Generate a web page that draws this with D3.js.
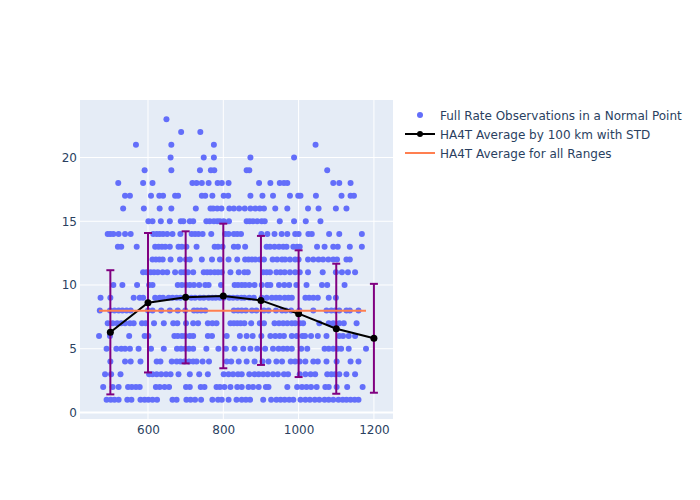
<!DOCTYPE html>
<html>
<head>
<meta charset="utf-8">
<script src="https://cdn.jsdelivr.net/npm/d3@7"></script>
<style>
  body { margin: 0; background: #fff; }
  text { font-family: "DejaVu Sans", Verdana, sans-serif; }
</style>
</head>
<body>
<div id="chart"></div>
<script>
// observations per normal point: x = range (km), grouped by observation count (row index + 1)
const obsRows = [
  [490, 501, 511, 522, 545, 556, 580, 591, 601, 612, 624, 665, 676, 702, 713, 725, 741, 771, 786, 796, 814, 835, 849, 860, 871, 906, 927, 941, 952, 963, 975, 986, 1005, 1018, 1030, 1043, 1055, 1069, 1080, 1092, 1106, 1117, 1127, 1138, 1149, 1159],
  [481, 506, 522, 547, 557, 568, 578, 621, 631, 644, 656, 701, 711, 740, 750, 782, 791, 803, 819, 837, 849, 867, 879, 894, 913, 920, 970, 996, 1009, 1021, 1033, 1048, 1071, 1080, 1101, 1129, 1170],
  [486, 502, 527, 603, 612, 623, 635, 648, 660, 681, 711, 736, 759, 801, 814, 826, 839, 849, 869, 883, 894, 906, 918, 932, 945, 961, 972, 1003, 1018, 1032, 1044, 1076, 1087, 1097, 1108, 1127, 1150],
  [500, 539, 554, 580, 623, 633, 663, 676, 686, 697, 709, 720, 729, 745, 762, 809, 821, 841, 862, 883, 904, 920, 941, 956, 979, 991, 1003, 1018, 1039, 1051, 1074, 1101, 1138, 1159],
  [490, 516, 529, 539, 552, 575, 608, 642, 677, 688, 699, 709, 720, 755, 787, 807, 830, 853, 872, 890, 911, 932, 947, 959, 970, 982, 1007, 1023, 1069, 1080, 1092, 1103, 1113, 1133, 1179],
  [470, 499, 550, 591, 601, 670, 679, 690, 699, 711, 720, 759, 770, 809, 844, 862, 878, 901, 925, 938, 950, 961, 982, 995, 1010, 1017, 1033, 1051, 1074, 1108, 1118, 1133, 1150],
  [493, 506, 518, 529, 539, 552, 562, 584, 594, 616, 642, 667, 678, 701, 720, 733, 759, 771, 782, 819, 828, 837, 846, 856, 874, 897, 908, 936, 948, 959, 970, 982, 991, 1003, 1012, 1055, 1080, 1092, 1108, 1120, 1154],
  [472, 499, 511, 522, 532, 543, 554, 600, 612, 635, 658, 679, 699, 722, 731, 741, 752, 828, 839, 849, 860, 876, 888, 908, 920, 940, 956, 966, 980, 1002, 1039, 1074, 1087, 1097, 1108, 1127, 1136, 1159],
  [474, 500, 562, 578, 587, 619, 631, 640, 655, 665, 676, 686, 699, 715, 725, 738, 748, 761, 771, 780, 791, 801, 816, 826, 837, 848, 856, 869, 881, 902, 915, 929, 940, 950, 963, 973, 982, 1018, 1028, 1039, 1051, 1080, 1099],
  [508, 532, 571, 603, 612, 679, 690, 701, 711, 722, 736, 752, 761, 794, 830, 839, 849, 858, 869, 883, 902, 917, 925, 948, 962, 975, 994, 1021, 1062, 1076, 1122],
  [587, 596, 607, 616, 626, 639, 651, 672, 688, 697, 706, 720, 748, 757, 766, 777, 786, 796, 819, 841, 856, 865, 906, 915, 924, 941, 952, 963, 977, 991, 1003, 1025, 1064, 1099, 1115, 1131, 1150],
  [612, 621, 630, 639, 660, 685, 701, 711, 743, 770, 791, 814, 837, 858, 867, 876, 885, 897, 908, 931, 943, 956, 964, 977, 991, 1000, 1025, 1039, 1053, 1065, 1079, 1092, 1102, 1127, 1136],
  [520, 529, 570, 619, 628, 637, 646, 658, 681, 690, 702, 729, 777, 786, 798, 828, 839, 858, 915, 924, 936, 948, 959, 968, 986, 996, 1003, 1049, 1069, 1092, 1104, 1136, 1168],
  [493, 500, 508, 522, 539, 554, 614, 623, 631, 640, 651, 665, 686, 716, 725, 734, 745, 768, 805, 814, 828, 837, 847, 901, 917, 936, 955, 970, 991, 1000, 1026, 1035, 1081, 1108, 1168],
  [601, 612, 634, 658, 687, 694, 711, 720, 755, 764, 775, 784, 791, 801, 815, 862, 870, 879, 890, 902, 910, 950, 988, 1019, 1058],
  [534, 589, 631, 662, 727, 766, 773, 784, 795, 816, 828, 842, 857, 872, 885, 897, 908, 938, 970, 1025, 1053, 1099, 1127],
  [539, 552, 608, 630, 640, 672, 680, 743, 752, 771, 801, 813, 872, 904, 932, 977, 999, 1005, 1046, 1114, 1138, 1147],
  [521, 587, 612, 718, 729, 743, 761, 785, 796, 814, 895, 925, 950, 961, 970, 1092, 1108, 1138],
  [591, 662, 738, 767, 776, 862, 869, 1076],
  [660, 748, 775, 872, 988],
  [568, 662, 775, 1045],
  [688, 739],
  [649]
];

// averages by 100 km bins
const binKm = [500, 600, 700, 800, 900, 1000, 1100, 1200];
const binMean = [6.29, 8.61, 9.03, 9.14, 8.79, 7.75, 6.57, 5.82];
const binStd = [4.87, 5.47, 5.18, 5.67, 5.06, 4.97, 5.1, 4.27];
const overallMean = 7.98;

const xTicks = [600, 800, 1000, 1200];
const yTicks = [0, 5, 10, 15, 20];
const legendLabels = [
  'Full Rate Observations in a Normal Point',
  'HA4T Average by 100 km with STD',
  'HA4T Average for all Ranges'
];

const width = 700;
const height = 500;
const margin = { top: 100, right: 307, bottom: 81, left: 80 };
const innerW = width - margin.left - margin.right;
const innerH = height - margin.top - margin.bottom;

const points = [];
obsRows.forEach((row, i) => {
  row.forEach(km => points.push({ x: km, y: i + 1 }));
});

const x = d3.scaleLinear().domain([419.4, 1250.7]).range([0, innerW]);
const y = d3.scaleLinear().domain([-0.51, 24.51]).range([innerH, 0]);

const svg = d3.select('#chart')
  .append('svg')
  .attr('width', width)
  .attr('height', height);

svg.append('rect')
  .attr('width', width)
  .attr('height', height)
  .attr('fill', '#fff');

const g = svg.append('g')
  .attr('transform', `translate(${margin.left},${margin.top})`);

g.append('rect')
  .attr('width', innerW)
  .attr('height', innerH)
  .attr('fill', '#E5ECF6');

// grid
g.selectAll('.xgrid')
  .data(xTicks)
  .enter().append('line')
  .attr('x1', d => x(d)).attr('x2', d => x(d))
  .attr('y1', 0).attr('y2', innerH)
  .attr('stroke', '#fff').attr('stroke-width', 1);

g.selectAll('.ygrid')
  .data(yTicks)
  .enter().append('line')
  .attr('x1', 0).attr('x2', innerW)
  .attr('y1', d => y(d)).attr('y2', d => y(d))
  .attr('stroke', '#fff')
  .attr('stroke-width', d => d === 0 ? 2 : 1);

// axes (labels only, plotly style)
const xAxis = g.append('g')
  .attr('transform', `translate(0,${innerH})`)
  .call(d3.axisBottom(x).tickValues(xTicks).tickFormat(d3.format('d')).tickSize(0).tickPadding(6));
const yAxis = g.append('g')
  .call(d3.axisLeft(y).tickValues(yTicks).tickSize(0).tickPadding(3));
[xAxis, yAxis].forEach(a => {
  a.select('.domain').remove();
  a.selectAll('text')
    .attr('fill', '#2a3f5f')
    .style('font-size', '12px')
    .style('font-family', '"DejaVu Sans", Verdana, sans-serif');
});

// scatter
g.append('g')
  .selectAll('circle')
  .data(points)
  .enter().append('circle')
  .attr('cx', d => x(d.x))
  .attr('cy', d => y(d.y))
  .attr('r', 3)
  .attr('fill', '#636efa');

// error bars
const bins = binKm.map((km, i) => ({ km: km, mean: binMean[i], std: binStd[i] }));
const eb = g.append('g').selectAll('g')
  .data(bins)
  .enter().append('g')
  .attr('stroke', 'purple')
  .attr('stroke-width', 2);
eb.append('line')
  .attr('x1', d => x(d.km)).attr('x2', d => x(d.km))
  .attr('y1', d => y(d.mean + d.std)).attr('y2', d => y(d.mean - d.std));
eb.append('line')
  .attr('x1', d => x(d.km) - 4).attr('x2', d => x(d.km) + 4)
  .attr('y1', d => y(d.mean + d.std)).attr('y2', d => y(d.mean + d.std));
eb.append('line')
  .attr('x1', d => x(d.km) - 4).attr('x2', d => x(d.km) + 4)
  .attr('y1', d => y(d.mean - d.std)).attr('y2', d => y(d.mean - d.std));

// average line
const line = d3.line().x(d => x(d.km)).y(d => y(d.mean));
g.append('path')
  .datum(bins)
  .attr('d', line)
  .attr('fill', 'none')
  .attr('stroke', '#000')
  .attr('stroke-width', 2);
g.append('g')
  .selectAll('circle')
  .data(bins)
  .enter().append('circle')
  .attr('cx', d => x(d.km))
  .attr('cy', d => y(d.mean))
  .attr('r', 3.5)
  .attr('fill', '#000');

// overall average
const ext = d3.extent(points, d => d.x);
g.append('line')
  .attr('x1', x(ext[0])).attr('x2', x(ext[1]))
  .attr('y1', y(overallMean)).attr('y2', y(overallMean))
  .attr('stroke', '#FF7F50')
  .attr('stroke-width', 2);

// legend
const legend = svg.append('g').attr('transform', 'translate(405,115)');
const items = legend.selectAll('g')
  .data(legendLabels)
  .enter().append('g')
  .attr('transform', (d, i) => `translate(0,${i * 19})`);
items.append('text')
  .attr('x', 35)
  .attr('y', 4.5)
  .attr('fill', '#2a3f5f')
  .style('font-size', '12px')
  .text(d => d);
legend.append('circle')
  .attr('cx', 15).attr('cy', 0).attr('r', 3)
  .attr('fill', '#636efa');
legend.append('line')
  .attr('x1', 0).attr('x2', 30).attr('y1', 19).attr('y2', 19)
  .attr('stroke', '#000').attr('stroke-width', 2);
legend.append('circle')
  .attr('cx', 15).attr('cy', 19).attr('r', 3)
  .attr('fill', '#000');
legend.append('line')
  .attr('x1', 0).attr('x2', 30).attr('y1', 38).attr('y2', 38)
  .attr('stroke', '#FF7F50').attr('stroke-width', 2);
</script>
</body>
</html>
